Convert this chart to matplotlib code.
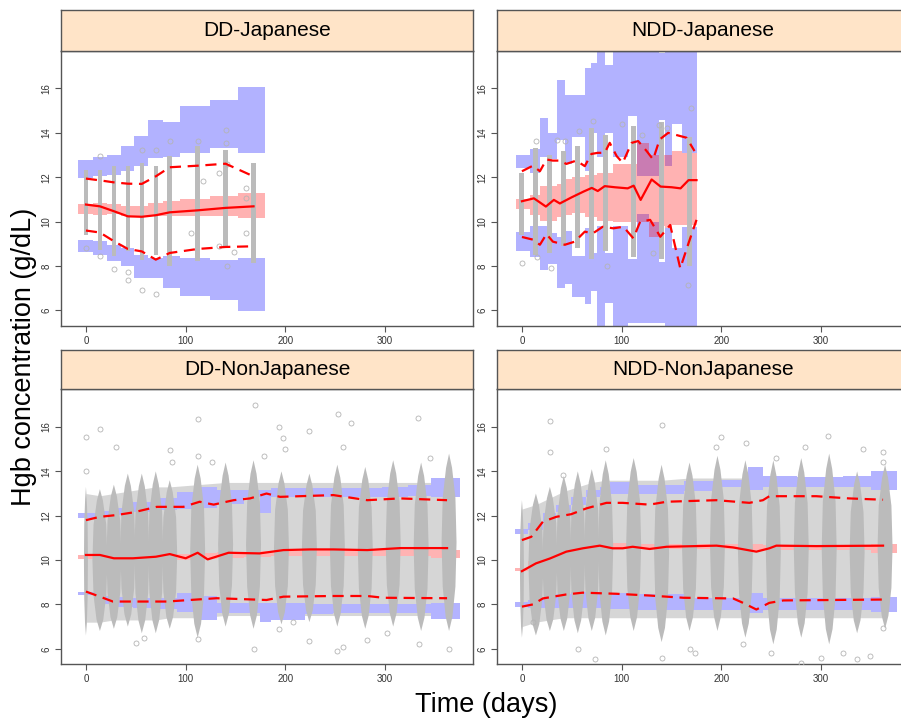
import numpy as np
import matplotlib.pyplot as plt
from matplotlib.patches import Polygon

plt.rcParams['font.family'] = ['Liberation Sans', 'DejaVu Sans']

# ---------------- DD-Japanese ----------------
ddj_visit = [0, 14, 28, 42, 56, 70, 84, 112, 140, 168]
ddj_obs_lo = [9.41, 8.74, 8.44, 8.66, 8.29, 8.51, 8.0, 8.21, 8.89, 8.15]
ddj_obs_hi = [12.34, 12.34, 12.5, 12.5, 12.64, 12.5, 12.94, 13.39, 13.24, 12.64]
ddj_out_t = [0, 14, 14, 28, 42, 42, 56, 70, 56, 70, 84, 112, 140, 140, 105, 160, 160, 160,
             117, 133, 141, 133, 148, 141]
ddj_out_y = [8.83, 12.94, 8.44, 7.87, 7.72, 7.38, 6.94, 6.76, 13.24, 13.24, 13.62, 13.62, 14.14,
             13.54, 9.5, 11.52, 9.5, 11.08, 11.82, 12.19, 7.99, 8.89, 8.63, 12.6]
ddj_edges = [-7.7, 6.7, 20.7, 34.7, 48.5, 62.5, 77.6, 94.3, 124.4, 152.8, 179.5]
ddj_ub_hi = [12.79, 12.91, 13.02, 13.42, 13.84, 14.59, 14.51, 15.21, 15.48, 16.05]
ddj_ub_lo = [11.97, 12.04, 12.12, 12.27, 12.49, 12.87, 12.91, 13.09, 13.32, 13.09]
ddj_md_hi = [10.78, 10.83, 10.78, 10.7, 10.72, 10.83, 10.94, 11.0, 11.14, 11.29]
ddj_md_lo = [10.35, 10.3, 10.35, 10.25, 10.25, 10.25, 10.25, 10.27, 10.25, 10.18]
ddj_lb_hi = [9.19, 9.12, 8.97, 8.82, 8.51, 8.36, 8.44, 8.36, 8.29, 8.36]
ddj_lb_lo = [8.62, 8.51, 8.21, 8.0, 7.46, 7.46, 7.01, 6.64, 6.49, 5.96]
ddj_line_t = [0, 14, 28, 42, 56, 70, 84, 112, 140, 168]
ddj_p50 = [10.77, 10.69, 10.47, 10.24, 10.22, 10.29, 10.42, 10.51, 10.62, 10.69]
ddj_p95 = [11.94, 11.86, 11.77, 11.71, 11.7, 12.04, 12.45, 12.52, 12.61, 12.04]
ddj_p05 = [9.6, 9.51, 9.12, 8.77, 8.66, 8.29, 8.59, 8.77, 8.86, 8.89]

# ---------------- NDD-Japanese ----------------
nddj_visit = [0, 14, 28, 42, 56, 70, 84, 112, 140, 168]
nddj_obs_lo = [9.4, 8.5, 8.6, 8.9, 8.8, 8.3, 8.7, 8.4, 8.3, 8.0]
nddj_obs_hi = [12.2, 13.3, 13.0, 13.2, 13.4, 14.2, 13.9, 14.3, 14.5, 13.8]
nddj_out_t = [0, 15, 29, 14, 43, 71, 85, 131, 137, 145, 166, 169, 35, 120, 57, 100]
nddj_out_y = [8.14, 8.43, 7.91, 13.62, 13.62, 14.52, 7.99, 8.6, 14.37, 14.22, 7.13, 15.12,
              13.7, 13.9, 14.1, 14.4]
nddj_edges = [-6, 8, 18, 26.4, 35, 43, 50, 63.2, 69, 75, 83.3, 91.7, 106.8, 115, 127, 137,
              143.6, 150, 160, 175.4]
nddj_ub_hi = [13.0, 13.25, 14.65, 14.0, 16.4, 15.7, 15.7, 16.9, 17.15, 17.8, 17.07, 17.8, 17.8,
              17.8, 17.8, 17.6, 17.8, 17.8, 17.8]
nddj_ub_lo = [12.4, 12.2, 12.9, 12.8, 13.7, 12.6, 13.8, 12.3, 14.0, 12.9, 14.0, 12.9, 14.75,
              12.04, 12.04, 14.6, 12.49, 14.4, 13.1]
nddj_md_hi = [11.0, 11.2, 11.59, 11.59, 11.7, 11.9, 12.0, 12.1, 12.1, 12.2, 12.2, 12.6, 12.6,
              13.54, 13.0, 13.0, 13.0, 13.2, 13.1]
nddj_md_lo = [10.55, 10.3, 10.02, 10.02, 10.2, 10.3, 10.4, 10.2, 10.2, 10.02, 10.02, 10.0, 10.0,
              10.0, 9.3, 9.8, 9.7, 9.85, 9.85]
nddj_lb_hi = [9.52, 9.8, 9.8, 9.5, 9.3, 9.6, 8.44, 9.7, 8.6, 9.8, 8.6, 9.8, 8.3, 10.34, 10.0,
              8.2, 9.7, 8.8, 9.75]
nddj_lb_lo = [8.66, 8.4, 7.84, 8.1, 7.0, 7.2, 6.6, 6.3, 6.86, 5.2, 6.35, 5.2, 5.45, 5.45, 5.45,
              5.45, 5.2, 5.2, 5.2]
nddj_line_t = [0, 12, 24, 32, 38, 50, 62, 70, 76, 83, 93, 106, 112, 119, 130, 139, 150, 159,
               167, 175]
nddj_p50 = [10.92, 11.05, 10.68, 10.98, 10.82, 11.1, 11.36, 11.52, 11.38, 11.6, 11.55, 11.5,
            11.62, 10.98, 11.9, 11.58, 11.55, 11.5, 11.87, 11.87]
nddj_hi_t = [0, 11, 18, 24.6, 31, 38, 44.5, 54.5, 63, 69.6, 76, 83, 88, 95, 101, 110, 116.5,
             125, 131.5, 138, 146.6, 155, 165, 173]
nddj_p95 = [12.27, 12.52, 12.27, 12.8, 12.75, 12.75, 12.6, 12.75, 12.5, 13.05, 13.1, 13.1,
            13.55, 12.95, 12.65, 13.55, 13.63, 13.18, 12.8, 13.7, 14.0, 13.9, 13.78, 13.18]
nddj_lo_t = [0, 11, 18, 24.6, 31, 43, 53, 63, 71, 81, 91.7, 101.7, 111.7, 118.5, 128.5, 138.7,
             148.6, 158.7, 167, 175]
nddj_p05 = [9.31, 9.19, 8.96, 9.44, 9.1, 8.96, 9.1, 9.55, 9.47, 9.77, 9.7, 9.77, 9.25, 10.0,
            10.08, 9.32, 9.85, 7.9, 9.03, 10.08]

# ---------------- DD-NonJapanese ----------------
ddn_visit = [0, 14, 28, 42, 56, 70, 84, 112, 140, 168, 196, 224, 252, 280, 308, 336, 364]
ddn_obs_lo = [6.6, 6.8, 6.9, 7.0, 6.7, 6.7, 6.9, 6.5, 7.0, 6.9, 7.1, 7.2, 7.0, 6.9, 7.0, 6.8, 6.8]
ddn_obs_hi = [13.3, 13.2, 13.4, 13.9, 13.9, 14.0, 13.6, 14.3, 14.4, 14.5, 14.0, 13.9, 14.3, 14.2,
              14.5, 14.4, 14.8]
ddn_env_lo = [7.2, 7.2, 7.3, 7.3, 7.3, 7.3, 7.4, 7.4, 7.5, 7.5, 7.5, 7.5, 7.5, 7.5, 7.5, 7.5, 7.5]
ddn_env_hi = [13.0, 12.9, 13.0, 13.1, 13.2, 13.3, 13.3, 13.4, 13.5, 13.5, 13.5, 13.5, 13.5, 13.5,
              13.5, 13.5, 13.5]
ddn_out_t = [0, 0, 14, 30, 84, 86, 112, 112, 126, 169, 178, 194, 198, 200, 224, 253, 266, 258,
             333, 345, 50, 58, 112, 168, 252, 258, 282, 302, 334, 224, 194, 208, 364]
ddn_out_y = [15.55, 14.0, 15.9, 15.1, 14.98, 14.4, 16.35, 14.7, 14.4, 16.97, 14.7, 16.0, 15.5,
             15.0, 15.8, 16.6, 16.2, 15.1, 16.4, 14.6, 6.25, 6.5, 6.45, 5.99, 5.9, 6.1, 6.4, 6.7,
             6.2, 6.36, 6.9, 7.2, 6.0]
ddn_edges = [-8, 10.7, 30, 47.5, 70, 91, 114, 131, 158, 174.5, 186, 220, 248, 297, 323, 346, 375]
ddn_ub_hi = [12.13, 12.2, 12.35, 12.6, 12.78, 13.08, 13.3, 13.15, 13.18, 13.18, 13.23, 13.23,
             13.25, 13.3, 13.38, 13.68]
ddn_ub_lo = [11.9, 11.95, 12.05, 12.15, 12.25, 12.3, 12.35, 12.55, 12.85, 12.1, 12.85, 12.85,
             12.85, 12.85, 12.87, 12.85]
ddn_md_hi = [10.25, 10.22, 10.2, 10.2, 10.25, 10.28, 10.3, 10.35, 10.38, 10.4, 10.42, 10.45,
             10.45, 10.45, 10.45, 10.45]
ddn_md_lo = [10.05, 10.0, 9.98, 9.98, 10.0, 10.02, 10.05, 10.1, 10.12, 10.15, 10.18, 10.2, 10.2,
             10.2, 10.2, 10.1]
ddn_lb_hi = [8.57, 8.4, 8.35, 8.3, 8.3, 8.5, 8.4, 8.06, 8.06, 8.06, 8.06, 8.0, 8.0, 8.0, 8.0, 8.05]
ddn_lb_lo = [8.42, 8.0, 7.9, 7.85, 7.8, 7.68, 7.3, 7.6, 7.6, 7.2, 7.3, 7.55, 7.6, 7.6, 7.6, 7.33]
ddn_p50_t = [0, 14, 28, 47, 70, 84, 100, 112, 122, 143, 174, 198, 225, 248, 282, 315, 362]
ddn_p50 = [10.23, 10.23, 10.08, 10.08, 10.15, 10.27, 10.08, 10.33, 10.03, 10.33, 10.3, 10.45,
           10.48, 10.48, 10.45, 10.54, 10.54]
ddn_p95_t = [0, 14, 30.7, 47.5, 71, 97.7, 114, 128, 148, 164.5, 181, 194.6, 248, 282, 315, 362]
ddn_p95 = [11.8, 11.95, 12.03, 12.15, 12.4, 12.4, 12.63, 12.5, 12.7, 12.78, 13.0, 12.85, 12.93,
           12.7, 12.78, 12.7]
ddn_p05_t = [0, 14, 27, 81, 131, 181, 198, 248, 282, 298, 362]
ddn_p05 = [8.58, 8.35, 8.13, 8.13, 8.28, 8.2, 8.35, 8.38, 8.38, 8.3, 8.28]

# ---------------- NDD-NonJapanese ----------------
nddn_visit = [0, 14, 28, 42, 56, 70, 84, 112, 140, 168, 196, 224, 252, 280, 308, 336, 364]
nddn_obs_lo = [6.5, 6.6, 6.8, 6.8, 6.7, 6.8, 6.6, 6.8, 6.3, 6.8, 6.8, 6.5, 6.2, 6.5, 6.2, 6.7, 6.9]
nddn_obs_hi = [12.7, 13.0, 13.3, 13.8, 14.0, 14.1, 14.5, 14.6, 14.3, 14.4, 14.7, 14.5, 14.5, 14.6,
               14.8, 14.0, 14.3]
nddn_env_lo = [7.0, 7.2, 7.3, 7.4, 7.4, 7.4, 7.4, 7.4, 7.4, 7.4, 7.4, 7.4, 7.4, 7.4, 7.4, 7.4, 7.4]
nddn_env_hi = [12.3, 12.5, 12.8, 13.1, 13.3, 13.5, 13.6, 13.6, 13.6, 13.7, 13.7, 13.7, 13.7, 13.7,
               13.7, 13.7, 13.7]
nddn_out_t = [28, 28, 84, 140, 200, 195, 225, 307, 284, 342, 362, 362, 255, 41, 73, 56, 140, 280,
              300, 349, 336, 322, 11, 168, 173, 222, 250, 362]
nddn_out_y = [16.26, 14.88, 15.03, 16.1, 15.55, 15.1, 15.3, 15.6, 15.1, 15.03, 14.88, 14.4, 14.6,
              13.83, 5.53, 5.98, 5.6, 5.37, 5.6, 5.68, 5.55, 5.83, 7.2, 5.98, 5.83, 6.2, 5.83, 6.95]
nddn_edges = [-6.6, 6, 21, 34.5, 49.5, 64.6, 78, 88, 115, 162, 195.5, 227, 242, 276, 322, 350, 376]
nddn_ub_hi = [11.4, 11.66, 12.1, 12.48, 12.85, 13.15, 13.3, 13.53, 13.38, 13.55, 13.6, 14.2, 13.8,
              13.75, 13.8, 14.0]
nddn_ub_lo = [11.17, 11.35, 11.73, 12.18, 12.48, 12.85, 12.93, 13.0, 13.0, 13.1, 13.3, 13.15,
              13.3, 13.3, 13.3, 13.15]
nddn_md_hi = [9.65, 9.95, 10.2, 10.45, 10.6, 10.7, 10.72, 10.75, 10.72, 10.72, 10.72, 10.72, 10.7,
              10.7, 10.7, 10.72]
nddn_md_lo = [9.5, 9.75, 10.0, 10.25, 10.4, 10.5, 10.5, 10.5, 10.5, 10.5, 10.5, 10.45, 10.45,
              10.45, 10.45, 10.33]
nddn_lb_hi = [8.1, 8.2, 8.3, 8.45, 8.55, 8.55, 8.55, 8.5, 8.45, 8.27, 8.27, 8.5, 8.27, 8.27, 8.27,
              8.35]
nddn_lb_lo = [7.9, 7.85, 7.85, 7.85, 7.85, 7.85, 7.85, 7.8, 7.75, 7.75, 7.75, 7.6, 7.75, 7.75,
              7.75, 7.68]
nddn_p50_t = [0, 14, 28, 44.5, 61, 78, 91, 101, 111, 128, 145, 195, 211.6, 235, 248, 255, 295, 362]
nddn_p50 = [9.5, 9.85, 10.07, 10.38, 10.53, 10.65, 10.53, 10.53, 10.6, 10.5, 10.6, 10.65, 10.57,
            10.38, 10.53, 10.65, 10.63, 10.65]
nddn_p95_t = [0, 9.4, 21, 34.5, 49.5, 64.6, 84.7, 101, 128, 145, 195, 228, 241.6, 248, 295, 328,
              362]
nddn_p95 = [10.9, 11.05, 11.73, 11.95, 12.07, 12.33, 12.58, 12.58, 12.5, 12.63, 12.7, 12.58, 12.7,
            12.88, 12.88, 12.78, 12.72]
nddn_p05_t = [0, 11, 21, 44.5, 61, 94.6, 128, 162, 211.6, 221.7, 235, 248, 262, 362]
nddn_p05 = [7.9, 8.0, 8.27, 8.45, 8.53, 8.48, 8.4, 8.3, 8.27, 8.07, 7.77, 8.07, 8.18, 8.22]

titles = ['DD-Japanese', 'NDD-Japanese', 'DD-NonJapanese', 'NDD-NonJapanese']

GRAY = '#BBBBBB'
EDGE = '#555555'


def px2fig(x0, y0, x1, y1):
    # pixel box (top-left origin) -> figure fraction [left, bottom, width, height]
    return [x0 / 901, 1 - y1 / 720, (x1 - x0) / 901, (y1 - y0) / 720]


def draw_bands(ax, edges, ub_hi, ub_lo, md_hi, md_lo, lb_hi, lb_lo, opaque=False):
    if opaque:
        kb = dict(color='#B3B3FF')
        kr = dict(color='#FFB3B3')
    else:
        kb = dict(color='blue', alpha=0.3)
        kr = dict(color='red', alpha=0.3)
    ax.stairs(ub_hi, edges, baseline=ub_lo, fill=True, lw=0, zorder=2, **kb)
    ax.stairs(lb_hi, edges, baseline=lb_lo, fill=True, lw=0, zorder=2, **kb)
    ax.stairs(md_hi, edges, baseline=md_lo, fill=True, lw=0, zorder=2, **kr)


def draw_columns(ax, visit, lo, hi, width):
    for t, a, b in zip(visit, lo, hi):
        ax.add_patch(plt.Rectangle((t - width / 2, a), width, b - a, color=GRAY, lw=0, zorder=3))


def draw_spindles(ax, visit, lo, hi, hw):
    for t, a, b in zip(visit, lo, hi):
        w = 2.0 if t == 0 else hw
        r = b - a
        pts = [(t, a), (t + 0.45 * w, a + 0.08 * r), (t + 0.85 * w, a + 0.25 * r),
               (t + w, a + 0.5 * r), (t + 0.85 * w, a + 0.75 * r), (t + 0.4 * w, a + 0.92 * r),
               (t, b), (t - 0.4 * w, a + 0.92 * r), (t - 0.85 * w, a + 0.75 * r),
               (t - w, a + 0.5 * r), (t - 0.85 * w, a + 0.25 * r), (t - 0.45 * w, a + 0.08 * r)]
        ax.add_patch(Polygon(pts, closed=True, color=GRAY, lw=0, zorder=3))


def draw_lines(ax, t50, y50, t95, y95, t05, y05):
    ax.plot(t50, y50, color='red', lw=1.6, zorder=5)
    ax.plot(t95, y95, color='red', lw=1.6, ls=(0, (5, 3)), zorder=5)
    ax.plot(t05, y05, color='red', lw=1.6, ls=(0, (5, 3)), zorder=5)


def style_axes(ax):
    ax.set_xlim(-25, 388)
    ax.set_ylim(5.3, 17.7)
    ax.set_xticks([0, 100, 200, 300])
    ax.set_yticks([6, 8, 10, 12, 14, 16])
    ax.tick_params(direction='out', length=4, width=0.8, color=EDGE, labelsize=7,
                   labelcolor='#333333', pad=3)
    for lbl in ax.get_yticklabels():
        lbl.set_rotation(90)
        lbl.set_va('center')
    for s in ax.spines.values():
        s.set_color(EDGE)
        s.set_linewidth(1.0)


def add_strip(fig, box, title):
    sax = fig.add_axes(box)
    sax.set_facecolor('#FFE4C8')
    sax.set_xticks([])
    sax.set_yticks([])
    for s in sax.spines.values():
        s.set_color(EDGE)
        s.set_linewidth(1.0)
    sax.text(0.5, 0.5, title, ha='center', va='center', fontsize=15, transform=sax.transAxes)


fig = plt.figure(figsize=(9.01, 7.2), dpi=100)

cols = [(61, 473), (497, 909)]
rows = [((10, 50.7), (50.7, 326)), ((350, 389.3), (389.3, 664.3))]

axes = []
for i in range(4):
    r, c = divmod(i, 2)
    x0, x1 = cols[c]
    (sy0, sy1), (py0, py1) = rows[r]
    ax = fig.add_axes(px2fig(x0, py0, x1, py1))
    add_strip(fig, px2fig(x0, sy0, x1, sy1), titles[i])
    axes.append(ax)

circ = dict(ls='none', marker='o', ms=3.6, mfc='none', mec='#B4B4B4', mew=0.6, zorder=4)

# DD-Japanese
ax = axes[0]
draw_bands(ax, ddj_edges, ddj_ub_hi, ddj_ub_lo, ddj_md_hi, ddj_md_lo, ddj_lb_hi, ddj_lb_lo)
draw_columns(ax, ddj_visit, ddj_obs_lo, ddj_obs_hi, 4.5)
ax.plot(ddj_out_t, ddj_out_y, **circ)
draw_lines(ax, ddj_line_t, ddj_p50, ddj_line_t, ddj_p95, ddj_line_t, ddj_p05)

# NDD-Japanese
ax = axes[1]
draw_bands(ax, nddj_edges, nddj_ub_hi, nddj_ub_lo, nddj_md_hi, nddj_md_lo, nddj_lb_hi, nddj_lb_lo)
draw_columns(ax, nddj_visit, nddj_obs_lo, nddj_obs_hi, 5.0)
ax.plot(nddj_out_t, nddj_out_y, **circ)
draw_lines(ax, nddj_line_t, nddj_p50, nddj_hi_t, nddj_p95, nddj_lo_t, nddj_p05)

# DD-NonJapanese
ax = axes[2]
ax.fill_between(ddn_visit, ddn_env_lo, ddn_env_hi, color='#D6D6D6', lw=0, zorder=1)
draw_bands(ax, ddn_edges, ddn_ub_hi, ddn_ub_lo, ddn_md_hi, ddn_md_lo, ddn_lb_hi, ddn_lb_lo, True)
draw_spindles(ax, ddn_visit, ddn_obs_lo, ddn_obs_hi, 7.5)
ax.plot(ddn_out_t, ddn_out_y, **circ)
draw_lines(ax, ddn_p50_t, ddn_p50, ddn_p95_t, ddn_p95, ddn_p05_t, ddn_p05)

# NDD-NonJapanese
ax = axes[3]
ax.fill_between(nddn_visit, nddn_env_lo, nddn_env_hi, color='#D6D6D6', lw=0, zorder=1)
draw_bands(ax, nddn_edges, nddn_ub_hi, nddn_ub_lo, nddn_md_hi, nddn_md_lo, nddn_lb_hi,
           nddn_lb_lo, True)
draw_spindles(ax, nddn_visit, nddn_obs_lo, nddn_obs_hi, 7.5)
ax.plot(nddn_out_t, nddn_out_y, **circ)
draw_lines(ax, nddn_p50_t, nddn_p50, nddn_p95_t, nddn_p95, nddn_p05_t, nddn_p05)

for ax in axes:
    style_axes(ax)

fig.text(24 / 901, 1 - 357 / 720, 'Hgb concentration (g/dL)', rotation=90, fontsize=19.5,
         ha='center', va='center')
fig.text(486 / 901, 1 - 705 / 720, 'Time (days)', fontsize=19.5, ha='center', va='center')

fig.savefig('out.png', dpi=100)
